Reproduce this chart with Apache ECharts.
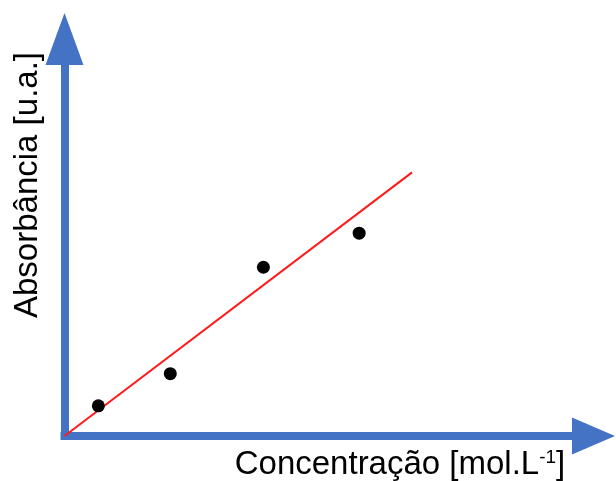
<!DOCTYPE html>
<html>
<head>
<meta charset="utf-8">
<script src="https://cdn.jsdelivr.net/npm/echarts@6/dist/echarts.min.js"></script>
<style>
  html, body { margin: 0; padding: 0; background: #ffffff; }
  #chart { width: 616px; height: 481px; }
</style>
</head>
<body>
<div id="chart"></div>
<script>
// Calibration points (concentration vs. absorbance), arbitrary units
const concentration = [0.64, 2.0, 3.76, 5.57];
const absorbance = [0.76, 1.57, 4.25, 5.11];

// Fitted calibration line endpoints
const fitConcentration = [0, 6.57];
const fitAbsorbance = [0, 6.64];

const axisMax = 10;
const axisBlue = '#4472C4';
const font = '"Liberation Sans", Arial, sans-serif';

const chart = echarts.init(document.getElementById('chart'));

chart.setOption({
  animation: false,
  backgroundColor: '#ffffff',
  grid: { left: 64.5, right: 22.5, top: 39, bottom: 45 },
  xAxis: {
    type: 'value',
    min: 0,
    max: axisMax,
    axisLine: {
      show: true,
      onZero: false,
      symbol: ['none', 'triangle'],
      symbolSize: [37, 43],
      lineStyle: { color: axisBlue, width: 8, cap: 'square' }
    },
    axisTick: { show: false },
    axisLabel: { show: false },
    splitLine: { show: false }
  },
  yAxis: {
    type: 'value',
    min: 0,
    max: axisMax,
    axisLine: {
      show: true,
      onZero: false,
      symbol: ['none', 'triangle'],
      symbolSize: [38, 52],
      lineStyle: { color: axisBlue, width: 8, cap: 'square' }
    },
    axisTick: { show: false },
    axisLabel: { show: false },
    splitLine: { show: false }
  },
  series: [
    {
      type: 'line',
      data: fitConcentration.map((c, i) => [c, fitAbsorbance[i]]),
      showSymbol: false,
      lineStyle: { color: '#ff1a1a', width: 2 },
      z: 2
    },
    {
      type: 'scatter',
      data: concentration.map((c, i) => [c, absorbance[i]]),
      symbol: 'circle',
      symbolSize: 13,
      itemStyle: { color: '#000000', opacity: 1 },
      z: 3
    }
  ],
  graphic: [
    {
      type: 'text',
      x: 28,
      y: 185,
      rotation: Math.PI / 2,
      style: {
        text: 'Absorbância [u.a.]',
        fontSize: 33,
        fontFamily: font,
        fill: '#000000',
        align: 'center',
        verticalAlign: 'middle'
      }
    },
    {
      type: 'text',
      x: 400,
      y: 465,
      style: {
        text: '{m|Concentração [mol.L}{s|-1}{m|]}',
        fontFamily: font,
        fill: '#000000',
        align: 'center',
        verticalAlign: 'middle',
        rich: {
          m: { fontSize: 33, fontFamily: font, fill: '#000000' },
          s: { fontSize: 19, fontFamily: font, fill: '#000000', verticalAlign: 'top' }
        }
      }
    }
  ]
});
</script>
</body>
</html>
